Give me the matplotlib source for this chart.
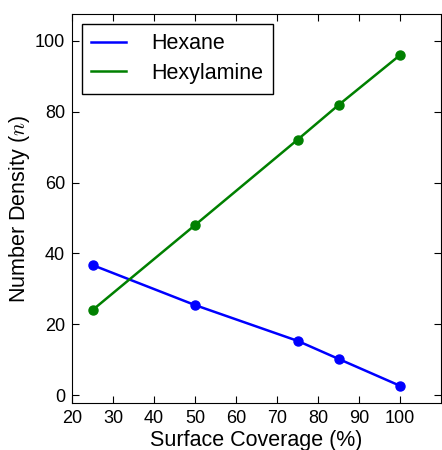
import matplotlib
matplotlib.use("Agg")
import matplotlib.pyplot as plt

# surface coverage (%) and number density per adsorbate
coverage = [25, 50, 75, 85, 100]
hexane = [36.7, 25.4, 15.3, 10.2, 2.6]
hexylamine = [24.0, 48.0, 72.1, 81.9, 96.0]

plt.rcParams["font.family"] = ["Liberation Sans", "DejaVu Sans"]
plt.rcParams["mathtext.fontset"] = "cm"
plt.rcParams["xtick.direction"] = "in"
plt.rcParams["ytick.direction"] = "in"
plt.rcParams["xtick.top"] = True
plt.rcParams["ytick.right"] = True

fig, ax = plt.subplots(figsize=(4.42, 4.5), dpi=100)
fig.subplots_adjust(left=0.163, right=0.998, top=0.969, bottom=0.104)

ax.plot(coverage, hexane, "-o", color="b", lw=1.8, ms=6.5, label="Hexane")
ax.plot(coverage, hexylamine, "-o", color="g", lw=1.8, ms=6.5, label="Hexylamine")

ax.set_xlim(20, 110)
ax.set_ylim(-2.3, 107.6)
ax.set_xticks(range(20, 101, 10))
ax.set_yticks(range(0, 101, 20))
ax.tick_params(labelsize=13, length=5, width=0.8, pad=5)
ax.set_xlabel("Surface Coverage (%)", fontsize=15.5, labelpad=2)
ax.set_ylabel("Number Density ($n$)", fontsize=15.5, labelpad=2)

leg = ax.legend(loc="upper left", fontsize=15.5, fancybox=False, framealpha=1,
                edgecolor="black", handlelength=1.6, borderpad=0.45,
                labelspacing=0.4, handletextpad=1.2, borderaxespad=0.45)
for h in leg.legend_handles:
    h.set_marker("")
leg.get_frame().set_linewidth(1.0)

fig.savefig("out.png", dpi=100)
